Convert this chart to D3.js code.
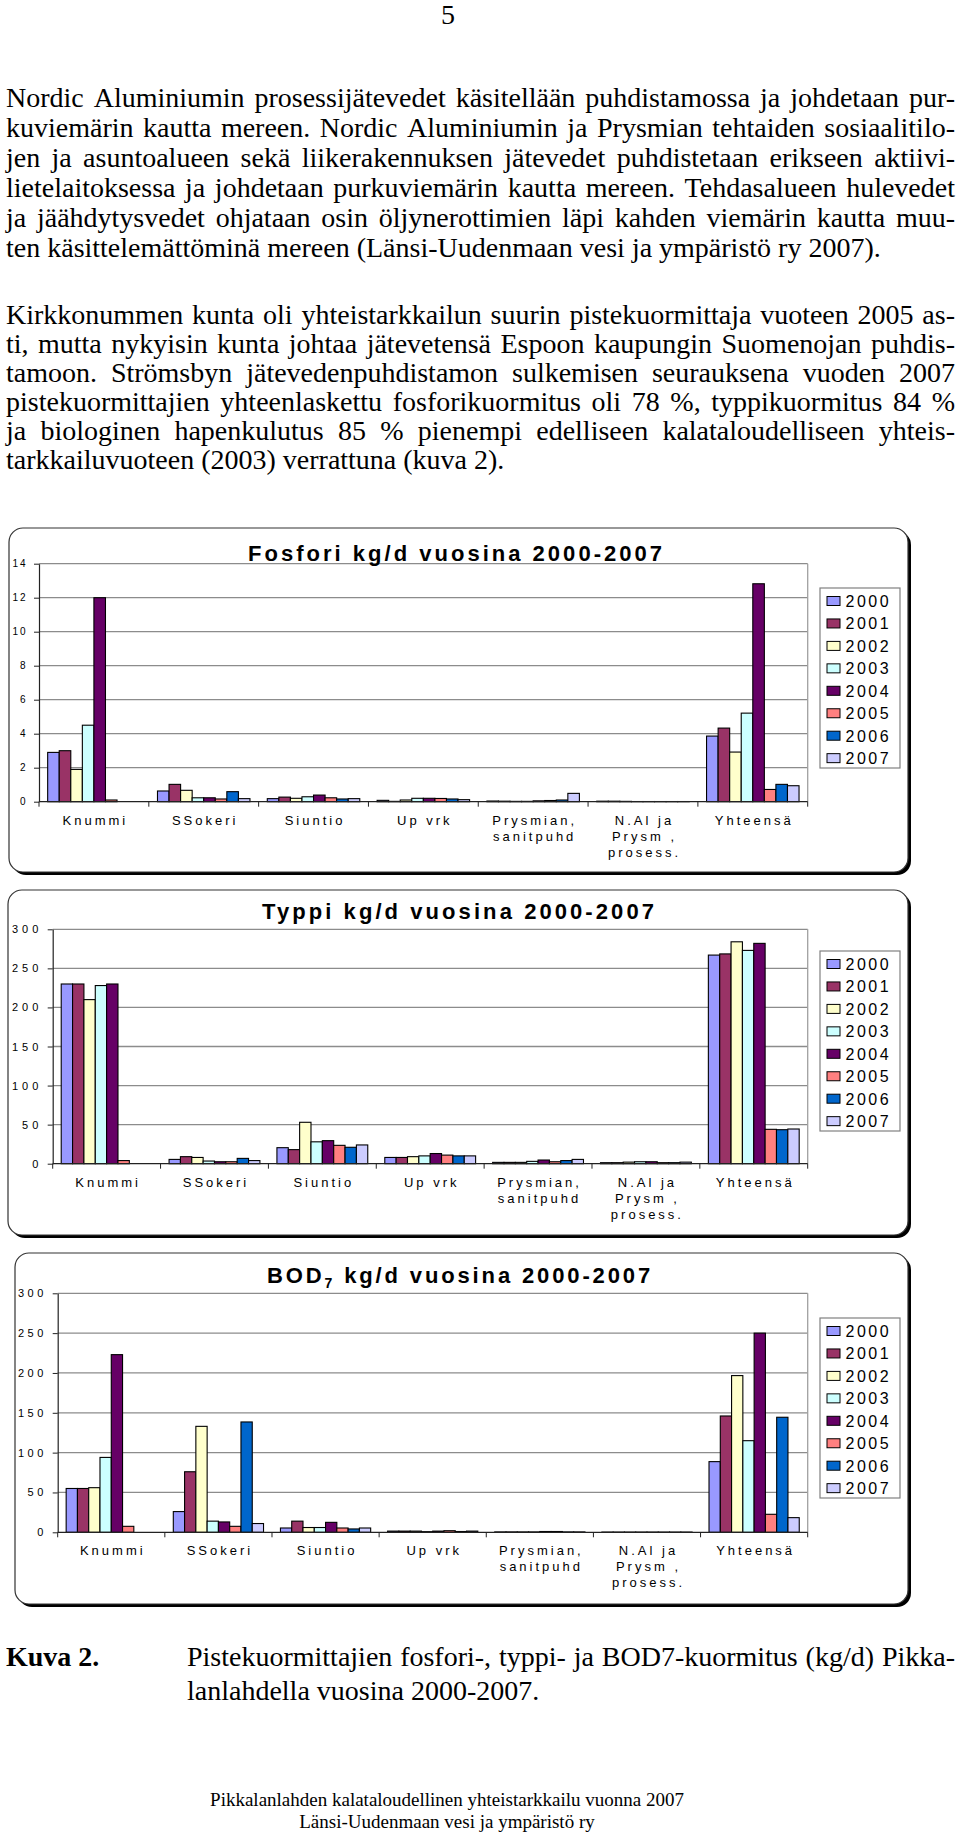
<!DOCTYPE html>
<html>
<head>
<meta charset="utf-8">
<script src="https://cdn.jsdelivr.net/npm/d3@7"></script>
<style>
body { margin: 0; background: #fff; }
svg { display: block; }
</style>
</head>
<body>
<div id="page"></div>
<script>
// ---- data ----
const years = ["2000", "2001", "2002", "2003", "2004", "2005", "2006", "2007"];
const categories = ["Knummi", "SSokeri", "Siuntio", "Up vrk", "Prysmian, sanitpuhd", "N.Al ja Prysm , prosess.", "Yhteensä"];
const categoryLines = [["Knummi"], ["SSokeri"], ["Siuntio"], ["Up vrk"], ["Prysmian,", "sanitpuhd"], ["N.Al ja", "Prysm ,", "prosess."], ["Yhteensä"]];

// one row per category, one value per year 2000-2007
const fosfori = [
    [2.9, 3.0, 1.9, 4.5, 12.0, 0.1, 0, 0],
    [0.63, 1.02, 0.67, 0.23, 0.23, 0.16, 0.59, 0.18],
    [0.18, 0.27, 0.2, 0.29, 0.39, 0.23, 0.16, 0.18],
    [0.08, 0.02, 0.1, 0.2, 0.2, 0.19, 0.16, 0.12],
    [0.04, 0.03, 0.02, 0.02, 0.05, 0.07, 0.1, 0.49],
    [0.03, 0.03, 0.02, 0.01, 0.01, 0.01, 0.01, 0.01],
    [3.86, 4.33, 2.92, 5.21, 12.82, 0.72, 1.02, 0.94]
];
const typpi = [
    [230, 230, 210, 228, 230, 4, 0, 0],
    [5.5, 9, 8, 3.4, 2.5, 2.5, 6.8, 4],
    [20.5, 18, 53, 28, 29.5, 23.5, 21, 24],
    [8, 8, 9, 10, 13, 11, 10, 10],
    [1.7, 1.7, 1.7, 3, 4.7, 2.5, 4, 5.5],
    [1.3, 1.3, 2, 2.5, 2.5, 1.3, 1.3, 2],
    [267, 268.5, 284, 273, 282, 44, 43.5, 44.4]
];
const bod7 = [
    [55, 55, 56, 94, 223, 7.5, 0, 0],
    [26, 76, 133, 14, 13, 7.5, 138.5, 11],
    [5.4, 14, 6, 6, 12.5, 5.4, 4.2, 5.4],
    [1.5, 1.5, 1.5, 0.8, 1.5, 2, 1, 1.5],
    [0.5, 0.5, 0.5, 0.5, 1, 1, 0.5, 0.5],
    [0.3, 0.3, 0.3, 0.3, 0.3, 0.3, 0.3, 0.3],
    [88.7, 146, 196.7, 115, 250, 22.6, 144.4, 18.4]
];
const fosforiTicks = [0, 2, 4, 6, 8, 10, 12, 14];
const kgTicks = [0, 50, 100, 150, 200, 250, 300];

const yearColors = ["#9999FF", "#993366", "#FFFFCC", "#CCFFFF", "#660066", "#FF8080", "#0066CC", "#CCCCFF"];

const paragraph1 = [
    "Nordic Aluminiumin prosessijätevedet käsitellään puhdistamossa ja johdetaan pur-",
    "kuviemärin kautta mereen. Nordic Aluminiumin ja Prysmian tehtaiden sosiaalitilo-",
    "jen ja asuntoalueen sekä liikerakennuksen jätevedet puhdistetaan erikseen aktiivi-",
    "lietelaitoksessa ja johdetaan purkuviemärin kautta mereen. Tehdasalueen hulevedet",
    "ja jäähdytysvedet ohjataan osin öljynerottimien läpi kahden viemärin kautta muu-",
    "ten käsittelemättöminä mereen (Länsi-Uudenmaan vesi ja ympäristö ry 2007)."
];
const paragraph2 = [
    "Kirkkonummen kunta oli yhteistarkkailun suurin pistekuormittaja vuoteen 2005 as-",
    "ti, mutta nykyisin kunta johtaa jätevetensä Espoon kaupungin Suomenojan puhdis-",
    "tamoon. Strömsbyn jätevedenpuhdistamon sulkemisen seurauksena vuoden 2007",
    "pistekuormittajien yhteenlaskettu fosforikuormitus oli 78 %, typpikuormitus 84 %",
    "ja biologinen hapenkulutus 85 % pienempi edelliseen kalataloudelliseen yhteis-",
    "tarkkailuvuoteen (2003) verrattuna (kuva 2)."
];
const captionLines = [
    "Pistekuormittajien fosfori-, typpi- ja BOD7-kuormitus (kg/d) Pikka-",
    "lanlahdella vuosina 2000-2007."
];
const footerLines = [
    "Pikkalanlahden kalataloudellinen yhteistarkkailu vuonna 2007",
    "Länsi-Uudenmaan vesi ja ympäristö ry"
];

// ---- page ----
const W = 960, H = 1833;
const serif = "'Liberation Serif', 'Times New Roman', serif";
const sans = "'Liberation Sans', Arial, sans-serif";

const svg = d3.select("#page").append("svg")
    .attr("width", W)
    .attr("height", H)

// word-justified line of body text
function textLine(x, y, str, width, size, justify) {
    const t = svg.append("text")
        .attr("y", y)
        .style("font-family", serif)
        .style("font-size", size + "px")
        .attr("fill", "#000")
    if (!justify) {
        t.attr("x", x).text(str);
        return t;
    }
    const words = str.split(" ");
    const spans = words.map(w => t.append("tspan").text(w));
    const widths = spans.map(s => s.node().getComputedTextLength());
    const gap = (width - d3.sum(widths)) / (words.length - 1);
    let cx = x;
    spans.forEach((s, i) => {
        s.attr("x", cx);
        cx += widths[i] + gap;
    });
    return t;
}

svg.append("text")
    .attr("x", 448).attr("y", 24)
    .attr("text-anchor", "middle")
    .style("font-family", serif)
    .style("font-size", "28px")
    .text("5")

const textLeft = 6, textWidth = 949;
paragraph1.forEach((l, i) => textLine(textLeft, 107 + i * 30, l, textWidth, 28, i < paragraph1.length - 1));
paragraph2.forEach((l, i) => textLine(textLeft, 324 + i * 29, l, textWidth, 28, i < paragraph2.length - 1));

// ---- charts ----
function drawChart(opt, values, ticks) {
    const g = svg.append("g");

    // frame with shadow
    g.append("rect")
        .attr("x", opt.fx + 3).attr("y", opt.fy + 3)
        .attr("width", opt.fw).attr("height", opt.fh)
        .attr("rx", 14)
        .attr("fill", "#000")
    g.append("rect")
        .attr("x", opt.fx).attr("y", opt.fy)
        .attr("width", opt.fw).attr("height", opt.fh)
        .attr("rx", 14)
        .attr("fill", "#fff")
        .attr("stroke", "#333")
        .attr("stroke-width", 1.2)

    const x0 = d3.scaleBand().domain(categories).range([opt.left, opt.right]);
    const x1 = d3.scaleBand().domain(years).range([0, x0.bandwidth()]).paddingOuter(0.75);
    const y = d3.scaleLinear().domain([0, d3.max(ticks)]).range([opt.bottom, opt.top]);

    // gridlines + right border
    g.selectAll(".grid")
        .data(ticks.slice(1))
        .enter()
        .append("line")
        .attr("x1", opt.left).attr("x2", opt.right)
        .attr("y1", d => y(d)).attr("y2", d => y(d))
        .attr("stroke", "#8c8c8c")
        .attr("stroke-width", 1.3)
    g.append("line")
        .attr("x1", opt.right).attr("x2", opt.right)
        .attr("y1", y(d3.max(ticks))).attr("y2", opt.bottom)
        .attr("stroke", "#a0a0a0")
        .attr("stroke-width", 1.3)

    // bars
    const groups = g.selectAll(".cat")
        .data(categories)
        .enter()
        .append("g")
        .attr("transform", c => "translate(" + x0(c) + ",0)")
    groups.selectAll("rect")
        .data((c, i) => values[i].map((v, j) => ({ year: years[j], v: v, j: j })).filter(d => d.v > 0))
        .enter()
        .append("rect")
        .attr("x", d => x1(d.year))
        .attr("y", d => y(d.v))
        .attr("width", x1.bandwidth())
        .attr("height", d => opt.bottom - y(d.v))
        .style("fill", d => yearColors[d.j])
        .style("stroke", "#000")
        .style("stroke-width", 1.1)

    // y axis
    const yAxis = d3.axisLeft(y)
        .tickValues(ticks)
        .tickSize(5)
        .tickSizeOuter(0)
        .tickPadding(opt.tickPad)
    const ga = g.append("g")
        .attr("transform", "translate(" + opt.left + ",0)")
        .call(yAxis)
    ga.select(".domain").attr("stroke", "#222").attr("stroke-width", 1.2);
    ga.selectAll(".tick line").attr("stroke", "#222");
    ga.selectAll(".tick text")
        .style("font-family", sans)
        .style("font-size", opt.yFont + "px")
        .style("letter-spacing", opt.yLs + "px")
        .attr("fill", "#000")

    // x axis line and category ticks
    g.append("line")
        .attr("x1", opt.left).attr("x2", opt.right)
        .attr("y1", opt.bottom).attr("y2", opt.bottom)
        .attr("stroke", "#222")
        .attr("stroke-width", 1.2)
    const bounds = categories.map(c => x0(c)).concat([opt.right]);
    g.selectAll(".xtick")
        .data(bounds)
        .enter()
        .append("line")
        .attr("x1", d => d).attr("x2", d => d)
        .attr("y1", opt.bottom).attr("y2", opt.bottom + 5)
        .attr("stroke", "#222")

    // category labels
    const lab = g.selectAll(".xlab")
        .data(categories)
        .enter()
        .append("text")
        .attr("text-anchor", "middle")
        .attr("y", opt.bottom + 23)
        .style("font-family", sans)
        .style("font-size", "13px")
        .style("letter-spacing", "3px")
        .attr("fill", "#000")
    lab.each(function (c, i) {
        const t = d3.select(this);
        categoryLines[i].forEach((s, k) => {
            t.append("tspan")
                .attr("x", x0(c) + x0.bandwidth() / 2 + 1.5)
                .attr("dy", k === 0 ? 0 : 16)
                .text(s)
        });
    });

    // title
    const title = g.append("text")
        .attr("x", opt.titleX)
        .attr("y", opt.titleY)
        .style("font-family", sans)
        .style("font-size", "22px")
        .style("font-weight", "bold")
        .attr("fill", "#000")
    opt.title.forEach(part => {
        const ts = title.append("tspan").text(part.text);
        if (part.sub) ts.attr("dy", 5).style("font-size", "14px");
        if (part.after) ts.attr("dy", -5);
    });
    const nat = title.node().getComputedTextLength();
    const nChars = opt.title.map(p => p.text).join("").length;
    title.style("letter-spacing", ((opt.titleW - nat) / nChars) + "px");

    // legend
    const lg = g.append("g");
    lg.append("rect")
        .attr("x", 820).attr("y", opt.legY)
        .attr("width", 80).attr("height", 180)
        .attr("fill", "#fff")
        .attr("stroke", "#808080")
        .attr("stroke-width", 1.2)
    const item = lg.selectAll(".item")
        .data(years)
        .enter()
        .append("g")
        .attr("transform", (d, i) => "translate(0," + (opt.legY + 13 + i * 22.45) + ")")
    item.append("rect")
        .attr("x", 827).attr("y", -4.5)
        .attr("width", 13).attr("height", 9)
        .style("fill", (d, i) => yearColors[i])
        .style("stroke", "#000")
    item.append("text")
        .attr("x", 845.5).attr("y", 6)
        .style("font-family", sans)
        .style("font-size", "16px")
        .style("letter-spacing", "2.5px")
        .attr("fill", "#000")
        .text(d => d)
}

drawChart({
    fx: 9, fy: 528, fw: 899, fh: 344,
    left: 39, right: 807.7, top: 563.7, bottom: 801.7,
    tickPad: 6.5, yFont: 10, yLs: 2,
    title: [{ text: "Fosfori kg/d vuosina 2000-2007" }],
    titleX: 248, titleY: 561, titleW: 417,
    legY: 588
}, fosfori, fosforiTicks);

drawChart({
    fx: 8, fy: 890, fw: 900, fh: 345,
    left: 52.7, right: 807.7, top: 929.3, bottom: 1163.7,
    tickPad: 5.4, yFont: 11, yLs: 4,
    title: [{ text: "Typpi kg/d vuosina 2000-2007" }],
    titleX: 262, titleY: 919, titleW: 395,
    legY: 951
}, typpi, kgTicks);

drawChart({
    fx: 15, fy: 1253, fw: 893, fh: 351,
    left: 57.7, right: 807.7, top: 1293.3, bottom: 1532.3,
    tickPad: 5.9, yFont: 11, yLs: 3.5,
    title: [{ text: "BOD" }, { text: "7", sub: true }, { text: " kg/d vuosina 2000-2007", after: true }],
    titleX: 267, titleY: 1283, titleW: 386,
    legY: 1318
}, bod7, kgTicks);

// ---- caption and footer ----
svg.append("text")
    .attr("x", 6).attr("y", 1666)
    .style("font-family", serif)
    .style("font-size", "28px")
    .style("font-weight", "bold")
    .text("Kuva 2.")
textLine(187, 1666, captionLines[0], 768, 28, true);
textLine(187, 1700, captionLines[1], 768, 28, false);

footerLines.forEach((l, i) => {
    svg.append("text")
        .attr("x", 447).attr("y", 1806 + i * 22)
        .attr("text-anchor", "middle")
        .style("font-family", serif)
        .style("font-size", "19px")
        .text(l)
});
</script>
</body>
</html>
